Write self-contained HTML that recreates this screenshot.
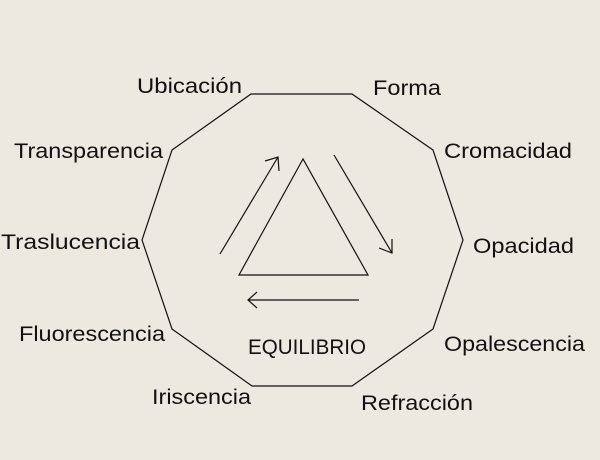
<!DOCTYPE html>
<html><head><style>
body{margin:0;width:600px;height:455px;background:#ece9e0;overflow:hidden}
svg text{font-family:"Liberation Sans",sans-serif;font-size:21px;fill:#111}
</style></head><body>
<svg width="600" height="455" viewBox="0 0 600 455">
<g fill="none" stroke="#111" stroke-width="1.2">
<polygon points="251,94 352,94 433,150 463,240 433,329 352,386 252,386 172,329 142,240 172,150"/>
<polygon points="303,159 239,275 368,275"/>
<line x1="220" y1="254" x2="278" y2="157"/>
<polyline points="265,161 278,157 279,171"/>
<line x1="334" y1="155" x2="392" y2="253"/>
<polyline points="379,248 392,253 392,239"/>
<line x1="359" y1="300" x2="248" y2="300"/>
<polyline points="257,292 248,300 257,308"/>
</g>
<text x="248" y="354" textLength="118" lengthAdjust="spacingAndGlyphs">EQUILIBRIO</text>
<text x="137" y="93" textLength="105" lengthAdjust="spacingAndGlyphs">Ubicación</text>
<text x="373" y="95" textLength="68" lengthAdjust="spacingAndGlyphs">Forma</text>
<text x="14" y="158" textLength="149" lengthAdjust="spacingAndGlyphs">Transparencia</text>
<text x="444" y="158" textLength="128" lengthAdjust="spacingAndGlyphs">Cromacidad</text>
<text x="1" y="249" textLength="139" lengthAdjust="spacingAndGlyphs">Traslucencia</text>
<text x="473" y="253" textLength="101" lengthAdjust="spacingAndGlyphs">Opacidad</text>
<text x="19" y="341" textLength="146" lengthAdjust="spacingAndGlyphs">Fluorescencia</text>
<text x="444" y="351" textLength="141" lengthAdjust="spacingAndGlyphs">Opalescencia</text>
<text x="152" y="404" textLength="99" lengthAdjust="spacingAndGlyphs">Iriscencia</text>
<text x="361" y="410" textLength="112" lengthAdjust="spacingAndGlyphs">Refracción</text>
</svg>
</body></html>
